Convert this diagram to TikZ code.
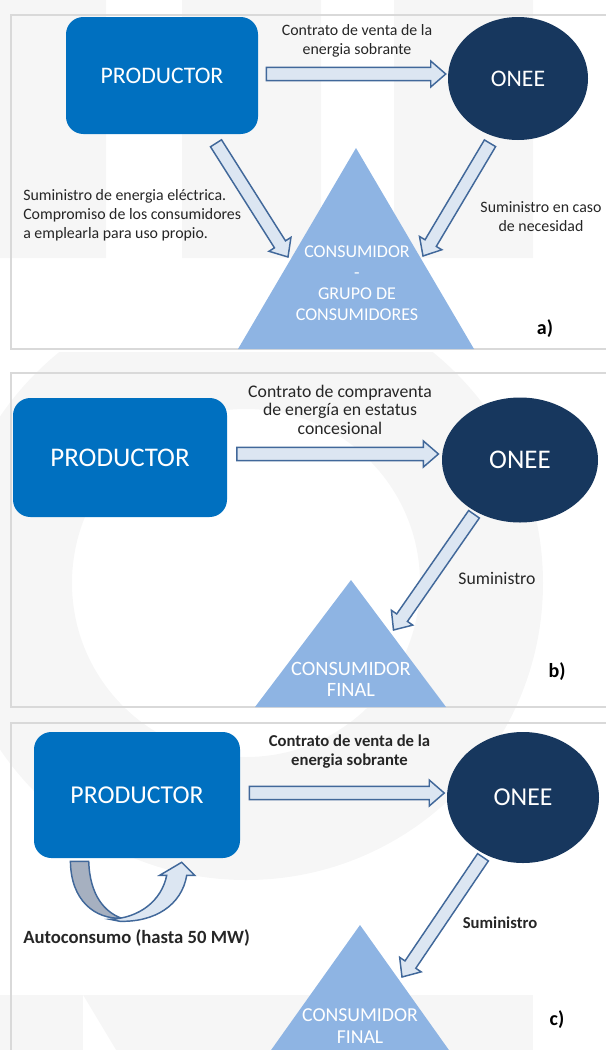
\documentclass[tikz,border=0pt]{standalone}
\usepackage{fontspec}
\setmainfont{Carlito}
\usetikzlibrary{calc,shapes.geometric}

\definecolor{prodblue}{HTML}{0070C0}
\definecolor{oneenavy}{HTML}{17375E}
\definecolor{consblue}{HTML}{8EB4E3}
\definecolor{arrowfill}{HTML}{DCE6F2}
\definecolor{arrowline}{HTML}{41689A}
\definecolor{uturngray}{HTML}{A6B0C0}
\definecolor{framegray}{HTML}{D9D9D9}
\definecolor{wmgray}{HTML}{F6F6F6}

\tikzset{
  prodbox/.style={fill=prodblue,text=white,rounded corners=13pt,inner sep=0pt},
  oneebox/.style={ellipse,fill=oneenavy,text=white,inner sep=0pt},
  blockarrow/.style={draw=arrowline,fill=arrowfill,line width=1.1pt,line join=miter},
  framebox/.style={draw=framegray,line width=1.5pt},
  lbl/.style={inner sep=0pt,align=center,text=black!85},
  constext/.style={inner sep=0pt,align=center,text=white},
  paneltag/.style={inner sep=0pt,text=black,font=\fontsize{15}{18}\selectfont\bfseries},
}

% block arrow from #1 to #2 (named coordinates)
\newcommand{\fatarrow}[2]{%
  \coordinate (fa-base) at ($(#2)!11.25pt!(#1)$);
  \draw[blockarrow] ($(#1)!4.9pt!90:(#2)$) -- ($(fa-base)!4.9pt!90:(#2)$)
    -- ($(fa-base)!9.75pt!90:(#2)$) -- (#2) -- ($(fa-base)!9.75pt!-90:(#2)$)
    -- ($(fa-base)!4.9pt!-90:(#2)$) -- ($(#1)!4.9pt!-90:(#2)$) -- cycle;}

\begin{document}
\begin{tikzpicture}[x=0.75pt,y=0.75pt,yscale=-1,xscale=1]
\useasboundingbox (0,0) rectangle (606,1050);
\clip (0,0) rectangle (606,1050);

%Watermark
\fill[wmgray] (0,0) rectangle (106,258) (182,0) rectangle (321,258) (394,0) rectangle (533,258);
\begin{scope}
\clip (0,352) rectangle (606,1050);
\fill[wmgray,even odd rule] (246,583) circle (297) (246,583) circle (174);
\end{scope}
\fill[wmgray] (0,995) rectangle (533,1050);
\fill[white] (83,995) -- (83,1050) -- (116,1050) -- cycle;

%Frames
\draw[framebox] (620,15) -- (11,15) -- (11,349) -- (620,349);
\draw[framebox] (620,373) -- (11,373) -- (11,707) -- (620,707);
\draw[framebox] (620,723) -- (11,723) -- (11,1060);

%%%%%%%%%%%%%%%% a)
%Shape: Rounded Rect
\node (prodA) [prodbox,minimum width=144pt,minimum height=87.75pt,font=\fontsize{17.8}{20}\selectfont] at (162,75.5) {PRODUCTOR};
%Shape: Ellipse
\node (oneeA) [oneebox,minimum width=105pt,minimum height=92.25pt,font=\fontsize{17.8}{20}\selectfont] at (518,78.5) {ONEE};
%Shape: Triangle
\coordinate (consA-top) at (356,148);
\fill[consblue] (consA-top) -- (238,349) -- (474,349) -- cycle;
\node (consA) [constext,font=\fontsize{13.5}{15.75}\selectfont] at (357,283) {CONSUMIDOR\\-\\GRUPO DE\\CONSUMIDORES};

%Block Arrows
\coordinate (a1s) at ($(prodA.east)+(8,-1.5)$);
\coordinate (a1e) at ($(oneeA.west)+(-2,-4.5)$);
\fatarrow{a1s}{a1e}
\coordinate (a2s) at ($(prodA.south)+(54,9)$);
\coordinate (a2e) at ($(consA-top)+(-68,109)$);
\fatarrow{a2s}{a2e}
\coordinate (a3s) at ($(oneeA.south)+(-28,3)$);
\coordinate (a3e) at ($(consA-top)+(67,108)$);
\fatarrow{a3s}{a3e}

% Text Node
\node (a1lbl) [lbl,font=\fontsize{11.9}{14.25}\selectfont] at (357,40.5) {Contrato de venta de la\\energia sobrante};
% Text Node
\node (a2lbl) [lbl,align=left,anchor=west,font=\fontsize{11.9}{14.25}\selectfont] at (23,215) {Suministro de energia eléctrica.\\Compromiso de los consumidores\\a emplearla para uso propio.};
% Text Node
\node (a3lbl) [lbl,font=\fontsize{11.9}{14.25}\selectfont] at (541,216.5) {Suministro en caso\\de necesidad};
% Text Node
\node (tagA) [paneltag] at (545,329) {a)};

%%%%%%%%%%%%%%%% b)
%Shape: Rounded Rect
\node (prodB) [prodbox,minimum width=160.5pt,minimum height=89.25pt,font=\fontsize{20.2}{22}\selectfont] at (120,457.5) {PRODUCTOR};
%Shape: Ellipse
\node (oneeB) [oneebox,minimum width=117pt,minimum height=93.75pt,font=\fontsize{20.2}{22}\selectfont] at (520,460) {ONEE};
%Shape: Triangle
\coordinate (consB-top) at (351,580);
\fill[consblue] (consB-top) -- (255,707) -- (446,707) -- cycle;
\node (consB) [constext,font=\fontsize{15.3}{15.75}\selectfont] at (351,679.5) {CONSUMIDOR\\FINAL};

%Block Arrows
\coordinate (b1s) at ($(prodB.east)+(9.6,-3.5)$);
\coordinate (b1e) at ($(oneeB.west)+(-3.3,-6)$);
\fatarrow{b1s}{b1e}
\coordinate (b2s) at ($(oneeB.south)+(-46,-8.5)$);
\coordinate (b2e) at ($(consB-top)+(42.5,50)$);
\fatarrow{b2s}{b2e}

% Text Node
\node (b1lbl) [lbl,font=\fontsize{13.3}{13.9}\selectfont] at (340,409.5) {Contrato de compraventa\\de energía en estatus\\concesional};
% Text Node
\node (b2lbl) [lbl,font=\fontsize{13.3}{14}\selectfont] at (497,578) {Suministro};
% Text Node
\node (tagB) [paneltag] at (557,672) {b)};

%%%%%%%%%%%%%%%% c)
%Shape: Rounded Rect
\node (prodC) [prodbox,minimum width=154.5pt,minimum height=94.5pt,font=\fontsize{19.3}{21}\selectfont] at (137,795) {PRODUCTOR};
%Shape: Ellipse
\node (oneeC) [oneebox,minimum width=114pt,minimum height=98.25pt,font=\fontsize{19.3}{21}\selectfont] at (523,797.5) {ONEE};
%Shape: Triangle
\coordinate (consC-top) at (360,925);
\fill[consblue] (consC-top) -- (264,1060) -- (456,1060) -- cycle;
\node (consC) [constext,font=\fontsize{14.8}{16.5}\selectfont] at (360,1026) {CONSUMIDOR\\FINAL};

%Block Arrows
\coordinate (c1s) at ($(prodC.east)+(9,-2)$);
\coordinate (c1e) at ($(oneeC.west)+(-2.5,-4.5)$);
\fatarrow{c1s}{c1e}
\coordinate (c2s) at ($(oneeC.south)+(-40,-6)$);
\coordinate (c2e) at ($(consC-top)+(42,52)$);
\fatarrow{c2s}{c2e}

%Curved U-turn Arrow
\begin{scope}[shift={(prodC.south west)}]
\draw[blockarrow,fill=uturngray] (36.7,3) -- (55,3) .. controls (56,37) and (71,54) .. (88,60) .. controls (61,61) and (37,42) .. (36.7,3) -- cycle;
\draw[blockarrow] (76,61) .. controls (106,60) and (128,42) .. (133,17) -- (126,17) -- (148,4) -- (161,17) -- (153,17) .. controls (148,47) and (121,64) .. (86,63) -- cycle;
\end{scope}

% Text Node
\node (c1lbl) [lbl,font=\fontsize{12.5}{14.25}\selectfont\bfseries] at (349.5,751.5) {Contrato de venta de la\\energia sobrante};
% Text Node
\node (c2lbl) [lbl,font=\fontsize{12.5}{14}\selectfont\bfseries] at (500,923) {Suministro};
% Text Node
\node (c3lbl) [lbl,anchor=west,font=\fontsize{14}{16}\selectfont\bfseries] at (23,938) {Autoconsumo (hasta 50 MW)};
% Text Node
\node (tagC) [paneltag] at (557,1020) {c)};

\end{tikzpicture}
\end{document}
